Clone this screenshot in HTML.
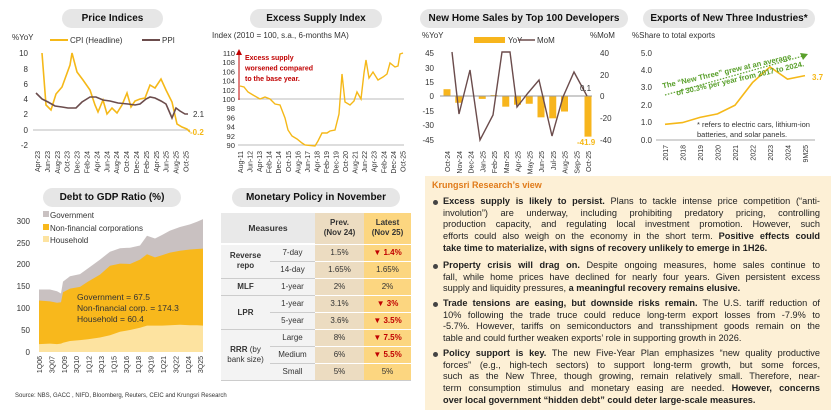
<!DOCTYPE html>
<html><head><meta charset="utf-8">
<style>
*{margin:0;padding:0;box-sizing:border-box}
body{width:840px;height:414px;background:#fff;font-family:"Liberation Sans",sans-serif;position:relative;overflow:hidden;color:#222}
svg{position:absolute;left:0;top:0}
.pill{position:absolute;background:#e6e6e6;border-radius:10px;font-weight:bold;font-size:10px;text-align:center;line-height:19px;color:#111}
#view{position:absolute;left:425px;top:176px;width:406px;height:234px;background:#fdf0d6}
#view .h{position:absolute;left:7px;top:4px;color:#e07b1a;font-weight:bold;font-size:9px}
.b{position:absolute;left:18px;width:377px;font-size:9.2px;line-height:11.7px;color:#222}
.b div{white-space:nowrap;text-align:justify;text-align-last:justify}
.b div.l{text-align-last:left}
.b:before{content:"";position:absolute;left:-10px;top:4px;width:5px;height:5px;border-radius:50%;background:#444}
table{position:absolute;left:221px;top:213px;width:190px;border-collapse:collapse;font-size:8px;text-align:center;color:#333}
td{border-bottom:1px solid #fff;height:17px;padding:0}
.m{background:#f3f3f3}
.p{background:#ecdcc1}
.lt{background:#fcd680}
.r{color:#c00000;font-weight:bold}
</style></head><body>
<div class="pill" style="left:62px;top:9px;width:101px">Price Indices</div>
<div class="pill" style="left:250px;top:9px;width:132px">Excess Supply Index</div>
<div class="pill" style="left:420px;top:9px;width:208px">New Home Sales by Top 100 Developers</div>
<div class="pill" style="left:643px;top:9px;width:172px">Exports of New Three Industries*</div>
<div class="pill" style="left:43px;top:188px;width:138px">Debt to GDP Ratio (%)</div>
<div class="pill" style="left:232px;top:188px;width:168px">Monetary Policy in November</div>

<svg width="840" height="414" id="s" font-family="Liberation Sans, sans-serif">
<g font-size="8" fill="#333">
<text x="12" y="40">%YoY</text>
<line x1="50" y1="40" x2="68" y2="40" stroke="#f5b818" stroke-width="2"/><text x="70" y="43">CPI (Headline)</text>
<line x1="142" y1="40" x2="160" y2="40" stroke="#6b4c4c" stroke-width="2"/><text x="162" y="43">PPI</text>
<g text-anchor="end"><text x="28" y="56">10</text><text x="28" y="72">8</text><text x="28" y="87">6</text><text x="28" y="102">4</text><text x="28" y="117">2</text><text x="28" y="133">0</text><text x="28" y="148">-2</text></g>
<line x1="33" y1="130" x2="190" y2="130" stroke="#bbb" stroke-width="1"/>
<polyline fill="none" stroke="#f5b818" stroke-width="1.6" points="42,53 46,105 51,110 56,94 62,87 70,65 72,53 77,72 83,80 90,90 95,105 98,112 103,100 107,114 112,108 117,113 122,105 127,93 131,107 135,101 140,99 145,98 150,85 155,88 161,79 166,90 172,102 177,124 182,127 187,129 190,132"/>
<polyline fill="none" stroke="#6b4c4c" stroke-width="1.6" points="36,93 42,99 48,102 55,106 62,107 68,108 76,108 82,102 90,97 96,97 103,100 110,101 118,103 128,104 135,105 140,104 146,99 150,97 155,98 161,101 166,104 172,118 176,108 180,111 185,114 188,114"/>
<text x="193" y="117">2.1</text><text x="190" y="135" fill="#f5b818" font-weight="bold">-0.2</text>
<text x="212" y="38">Index (2010 = 100, s.a., 6-months MA)</text>
<g text-anchor="end" id="ey" font-size="7.6"></g>
<line x1="238" y1="99" x2="404" y2="99" stroke="#bbb"/><line x1="238" y1="145" x2="404" y2="145" stroke="#bbb"/>
<line x1="239" y1="100" x2="239" y2="54" stroke="#c00000" stroke-width="1"/><polygon points="236,55 242,55 239,49" fill="#c00000"/>
<g fill="#c00000" font-weight="bold" font-size="7"><text x="245" y="60">Excess supply</text><text x="245" y="70.5">worsened compared</text><text x="245" y="81">to the base year.</text></g>
<polyline fill="none" stroke="#f5b818" stroke-width="1.4" points="240,86 244,87 248,92 253,95 260,99 265,97 270,99 275,104 280,105 285,118 288,130 292,136 297,139 302,143 305,145 315,146 318,141 322,133 327,133 330,131 335,130 339,114 342,74 345,102 350,105 354,101 357,92 361,99 364,73 366,60 369,78 373,72 378,80 383,77 387,74 390,63 395,67 398,66 400,54 403,53"/>
<text x="422" y="38">%YoY</text><text x="590" y="38">%MoM</text>
<rect x="474" y="37" width="31" height="6" fill="#f7b51d"/><text x="508" y="43">YoY</text>
<line x1="518" y1="40" x2="535" y2="40" stroke="#6b4c4c" stroke-width="1.5"/><text x="537" y="43">MoM</text>
<g text-anchor="end"><text x="434" y="56">45</text><text x="434" y="71">30</text><text x="434" y="85">15</text><text x="434" y="99">0</text><text x="434" y="114">-15</text><text x="434" y="128">-30</text><text x="434" y="143">-45</text></g>
<g><text x="600" y="56">40</text><text x="600" y="78">20</text><text x="600" y="99">0</text><text x="600" y="121">-20</text><text x="600" y="143">-40</text></g>
<g id="hb"></g>
<line x1="440" y1="96" x2="592" y2="96" stroke="#999"/>
<polyline fill="none" stroke="#6b4c4c" stroke-width="1.4" points="452,52 459,114 470,70 480,140 493,115 502,52 510,52 517,107 528,93 539,80 552,136 563,97 574,72 587,96"/>
<text x="580" y="91">0.1</text><text x="577" y="145" fill="#f5b818" font-weight="bold">-41.9</text>
<text x="632" y="38">%Share to total exports</text>
<g text-anchor="end"><text x="652" y="56">5.0</text><text x="652" y="73">4.0</text><text x="652" y="90">3.0</text><text x="652" y="108">2.0</text><text x="652" y="125">1.0</text><text x="652" y="143">0.0</text></g>
<line x1="656" y1="140" x2="815" y2="140" stroke="#aaa"/>
<polyline id="ex" fill="none" stroke="#f5b818" stroke-width="1.6"/>
<text x="812" y="80" fill="#f5b818" font-weight="bold">3.7</text>
<line x1="665" y1="95" x2="803" y2="56" stroke="#5aa02c" stroke-width="1.2" stroke-dasharray="1.5,1.5"/><polygon points="808,54 800,53 803,60" fill="#5aa02c"/>
<g transform="rotate(-13 700 80)" fill="#5aa02c" font-weight="bold" font-size="7.6"><text x="662" y="80">The “New Three” grew at an average</text><text x="674" y="90">of 30.3% per year from 2017 to 2024.</text></g>
<text x="697" y="127" font-size="7.5">* refers to electric cars, lithium-ion</text><text x="697" y="137" font-size="7.5">batteries, and solar panels.</text>
<rect x="43" y="211" width="6" height="6" fill="#c9c1c1"/><text x="50" y="218">Government</text>
<rect x="43" y="224" width="6" height="6" fill="#f8b81c"/><text x="50" y="231">Non-financial corporations</text>
<rect x="43" y="236" width="6" height="6" fill="#fde3a0"/><text x="50" y="243">Household</text>
<g text-anchor="end"><text x="30" y="224">300</text><text x="30" y="246">250</text><text x="30" y="267">200</text><text x="30" y="289">150</text><text x="30" y="311">100</text><text x="30" y="333">50</text><text x="30" y="355">0</text></g>
<path id="ag" fill="#c9c1c1"/><path id="ac" fill="#f8b81c"/><path id="ah" fill="#fde3a0"/>
<g font-size="8.5" fill="#333"><text x="77" y="300">Government = 67.5</text><text x="77" y="311">Non-financial corp. = 174.3</text><text x="77" y="322">Household = 60.4</text></g>
<text x="15" y="397" font-size="6">Source: NBS, GACC , NIFD, Bloomberg, Reuters, CEIC and Krungsri Research</text>
<g id="xl" font-size="7"></g>
</g>
</svg>

<table>
<tr style="height:31px"><td colspan="2" style="background:#e9e9e9;font-weight:bold;font-size:8.5px;border-bottom:2px solid #fff">Measures</td><td class="p" style="font-weight:bold;line-height:10px;width:49px">Prev.<br>(Nov 24)</td><td class="lt" style="font-weight:bold;line-height:10px;width:47px">Latest<br>(Nov 25)</td></tr>
<tr><td rowspan="2" class="m" style="font-weight:bold;line-height:10px;width:49px;border-bottom:1px solid #ccc">Reverse<br>repo</td><td class="m" style="border-bottom:1px solid #ccc">7-day</td><td class="p">1.5%</td><td class="lt r">▼ 1.4%</td></tr>
<tr><td class="m" style="border-bottom:1px solid #ccc">14-day</td><td class="p">1.65%</td><td class="lt">1.65%</td></tr>
<tr><td class="m" style="font-weight:bold;border-bottom:1px solid #ccc">MLF</td><td class="m" style="border-bottom:1px solid #ccc">1-year</td><td class="p">2%</td><td class="lt">2%</td></tr>
<tr><td rowspan="2" class="m" style="font-weight:bold;border-bottom:1px solid #ccc">LPR</td><td class="m" style="border-bottom:1px solid #ccc">1-year</td><td class="p">3.1%</td><td class="lt r">▼ 3%</td></tr>
<tr><td class="m" style="border-bottom:1px solid #ccc">5-year</td><td class="p">3.6%</td><td class="lt r">▼ 3.5%</td></tr>
<tr><td rowspan="3" class="m" style="line-height:10px;border-bottom:1px solid #ccc"><b>RRR</b> (by<br>bank size)</td><td class="m" style="border-bottom:1px solid #ccc">Large</td><td class="p">8%</td><td class="lt r">▼ 7.5%</td></tr>
<tr><td class="m" style="border-bottom:1px solid #ccc">Medium</td><td class="p">6%</td><td class="lt r">▼ 5.5%</td></tr>
<tr><td class="m" style="border-bottom:1px solid #ccc">Small</td><td class="p" style="border-bottom:1px solid #ccc">5%</td><td class="lt" style="border-bottom:1px solid #ccc">5%</td></tr>
</table>

<div id="view">
<div class="h">Krungsri Research’s view</div>
<div class="b" style="top:20px">
<div><b>Excess supply is likely to persist.</b> Plans to tackle intense price competition (“anti-</div>
<div>involution”) are underway, including prohibiting predatory pricing, controlling</div>
<div>production capacity, and regulating local investment promotion. However, such</div>
<div>efforts could also weigh on the economy in the short term. <b>Positive effects could</b></div>
<div class="l"><b>take time to materialize, with signs of recovery unlikely to emerge in 1H26.</b></div>
</div>
<div class="b" style="top:84px">
<div><b>Property crisis will drag on.</b> Despite ongoing measures, home sales continue to</div>
<div>fall, while home prices have declined for nearly four years. Given persistent excess</div>
<div class="l">supply and liquidity pressures, <b>a meaningful recovery remains elusive.</b></div>
</div>
<div class="b" style="top:122px">
<div><b>Trade tensions are easing, but downside risks remain.</b> The U.S. tariff reduction of</div>
<div>10% following the trade truce could reduce long-term export losses from -7.9% to</div>
<div>-5.7%. However, tariffs on semiconductors and transshipment goods remain on the</div>
<div class="l">table and could further weaken exports’ role in supporting growth in 2026.</div>
</div>
<div class="b" style="top:172px">
<div><b>Policy support is key.</b> The new Five-Year Plan emphasizes “new quality productive</div>
<div>forces” (e.g., high-tech sectors) to support long-term growth, but some forces,</div>
<div>such as the New Three, though growing, remain relatively small. Therefore, near-</div>
<div>term consumption stimulus and monetary easing are needed. <b>However, concerns</b></div>
<div class="l"><b>over local government “hidden debt” could deter large-scale measures.</b></div>
</div>
</div>

<script>
var NS="http://www.w3.org/2000/svg";
function T(p,x,y,t,rot,anchor){var e=document.createElementNS(NS,"text");e.setAttribute("x",x);e.setAttribute("y",y);e.textContent=t;if(rot)e.setAttribute("transform","rotate(-90 "+x+" "+y+")");e.setAttribute("text-anchor",anchor||"end");p.appendChild(e);}
var xl=document.getElementById("xl");
var pl=["Apr-23","Jun-23","Aug-23","Oct-23","Dec-23","Feb-24","Apr-24","Jun-24","Aug-24","Oct-24","Dec-24","Feb-25","Apr-25","Jun-25","Aug-25","Oct-25"];
pl.forEach(function(t,i){T(xl,40+i*9.9,151,t,1)});
var el=["Aug-11","Jun-12","Apr-13","Feb-14","Dec-14","Oct-15","Aug-16","Jun-17","Apr-18","Feb-19","Dec-19","Oct-20","Aug-21","Jun-22","Apr-23","Feb-24","Dec-24","Oct-25"];
el.forEach(function(t,i){T(xl,243+i*9.55,151,t,1)});
var ey=document.getElementById("ey");
for(var v=90;v<=110;v+=2)T(ey,235,145-(v-90)*4.6+3,String(v));
var hl=["Oct-24","Nov-24","Dec-24","Jan-25","Feb-25","Mar-25","Apr-25","May-25","Jun-25","Jul-25","Aug-25","Sep-25","Oct-25"];
var hv=[7,-7,0,-3,1,-11,-9,-8,-22,-23,-16,0,-41.9];
var hb=document.getElementById("hb");
hl.forEach(function(t,i){var cx=447+i*11.75;T(xl,cx+3,151,t,1);var h=hv[i]*0.97;var r=document.createElementNS(NS,"rect");r.setAttribute("x",cx-3.5);r.setAttribute("width",7);r.setAttribute("y",h>0?96-h:96);r.setAttribute("height",Math.abs(h));r.setAttribute("fill","#f7b51d");hb.appendChild(r);});
var xv=["2017","2018","2019","2020","2021","2022","2023","2024","9M25"],ev=[0.9,1.0,1.3,1.5,2.0,3.3,4.2,3.5,3.7],pts=[];
xv.forEach(function(t,i){var x=665+i*17.5;T(xl,x+3,145,t,1);pts.push(x+","+(140-ev[i]*17.4));});
document.getElementById("ex").setAttribute("points",pts.join(" "));
var dl=["1Q06","3Q07","1Q09","3Q10","1Q12","3Q13","1Q15","3Q16","1Q18","3Q19","1Q21","3Q22","1Q24","3Q25"];
dl.forEach(function(t,i){T(xl,42+i*12.4,356,t,1)});
var D=[[39,18,117,142],[50,19,115,142],[57,18,112,138],[61,19,113,133],[63,21,136,160],[70,25,144,172],[80,27,148,177],[88,29,160,190],[100,33,176,210],[110,38,196,228],[120,46,201,236],[130,50,200,237],[140,55,210,242],[147,60,222,264],[155,60,215,258],[162,60,220,266],[170,61,226,276],[180,62,230,284],[190,61,233,290],[197,61,234,296],[203,60,235,302]];
function Y(v){return 352-v*0.44}
function area(k){var s="M39,352";D.forEach(function(d){s+=" L"+d[0]+","+Y(d[k]).toFixed(1)});return s+" L203,352 Z";}
document.getElementById("ag").setAttribute("d",area(3));
document.getElementById("ac").setAttribute("d",area(2));
document.getElementById("ah").setAttribute("d",area(1));
</script>
</body></html>
